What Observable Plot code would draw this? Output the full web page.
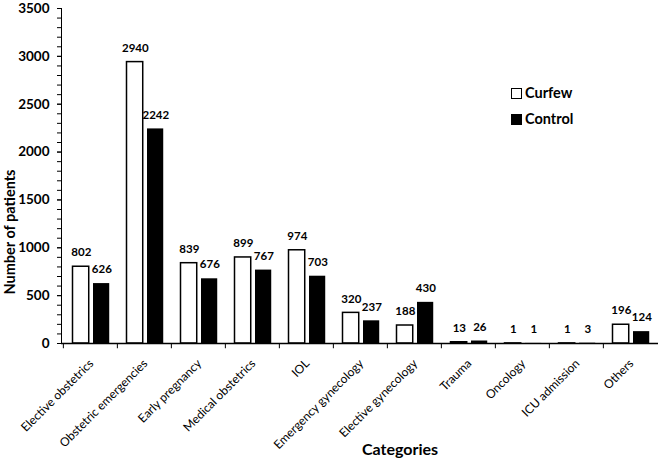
<!DOCTYPE html>
<html>
<head>
<meta charset="utf-8">
<script src="https://cdn.jsdelivr.net/npm/d3@7"></script>
<script src="https://cdn.jsdelivr.net/npm/@observablehq/plot@0.6"></script>
<style>
  body { margin: 0; background: #fff; }
  #chart { position: relative; width: 660px; height: 462px; }
  .legend { position: absolute; left: 511px; top: 80px; font-family: Lato, sans-serif; font-weight: bold; font-size: 14.5px; line-height: 26px; color: #000; }
  .legend span.sw { display: inline-block; width: 9px; height: 9px; border: 1.5px solid #000; margin-right: 3px; vertical-align: -1px; }
  #chart svg g[aria-label="y-axis tick label"] text, #chart svg g[aria-label="y-axis"] text { font-weight: bold; font-size: 13.5px; }
</style>
</head>
<body>
<div id="chart"></div>
<script>
const categories = ["Elective obstetrics", "Obstetric emergencies", "Early pregnancy", "Medical obstetrics", "IOL", "Emergency gynecology", "Elective gynecology", "Trauma", "Oncology", "ICU admission", "Others"];
const curfew = [802, 2940, 839, 899, 974, 320, 188, 13, 1, 1, 196];
const control = [626, 2242, 676, 767, 703, 237, 430, 26, 1, 3, 124];
const seriesNames = ["Curfew", "Control"];
const yTicks = [0, 500, 1000, 1500, 2000, 2500, 3000, 3500];

const curfewData = categories.map((c, i) => ({category: c, value: curfew[i]}));
const controlData = categories.map((c, i) => ({category: c, value: control[i]}));
const minorTicks = d3.range(0, 3501, 100);

const W = 660, H = 462, mL = 61, mR = 2, mT = 8, mB = 119;
const bw = (W - mL - mR) / categories.length;
const font = 'Lato, sans-serif';

const plot = Plot.plot({
  width: W, height: H,
  marginLeft: mL, marginRight: mR, marginTop: mT, marginBottom: mB,
  style: {fontFamily: font, color: "#000", background: "#fff", fontSize: "13px"},
  x: {type: "band", domain: categories, padding: 0, axis: null},
  y: {domain: [0, 3500], ticks: yTicks, tickSize: 4, tickPadding: 8, line: true, label: null, tickFormat: d => String(d)},
  marks: [
    Plot.barY(curfewData, {x: "category", y: "value", fill: "#fff", stroke: "#000", strokeWidth: 1.5, insetLeft: 9.5, insetRight: bw - 26}),
    Plot.barY(controlData, {x: "category", y: "value", fill: "#000", insetLeft: 30, insetRight: bw - 46.5}),
    Plot.text(curfewData, {x: "category", y: "value", text: d => String(d.value), dx: -bw/2 + 18, dy: -14, fontWeight: "bold", fontSize: 11.5, fill: "#000"}),
    Plot.text(controlData, {x: "category", y: "value", text: d => String(d.value), dx: -bw/2 + 38.5, dy: -14, fontWeight: "bold", fontSize: 11.5, fill: "#000"}),
    // minor y ticks
    Plot.tickY(minorTicks, {y: d => d, dx: -4, insetRight: W - mL - mR - 4, stroke: "#000", strokeWidth: 1}),
    // x axis line and boundary ticks
    Plot.ruleY([0], {stroke: "#000", strokeWidth: 1.3}),
    Plot.ruleX(categories, {x: d => d, y1: 0, y2: -55, dx: -bw/2, stroke: "#000", strokeWidth: 1}),
    // category labels
    Plot.text(categories, {x: d => d, y: 0, text: d => d, rotate: -45, textAnchor: "end", dy: 18, dx: 1, fontSize: 12, fill: "#000"})
  ]
});

const chart = document.getElementById("chart");
chart.appendChild(plot);

const svg = d3.select(plot);
svg.append("text").attr("x", 400).attr("y", 455).attr("text-anchor", "middle")
  .attr("font-family", font).attr("font-weight", "bold").attr("font-size", 16).text("Categories");
svg.append("text").attr("transform", "translate(15,232) rotate(-90)").attr("text-anchor", "middle")
  .attr("font-family", font).attr("font-weight", "bold").attr("font-size", 14.5).text("Number of patients");

const legend = document.createElement("div");
legend.className = "legend";
legend.innerHTML = seriesNames.map((s, i) =>
  `<div><span class="sw" style="background:${i === 0 ? "#fff" : "#000"}"></span>${s}</div>`).join("");
chart.appendChild(legend);
</script>
</body>
</html>
